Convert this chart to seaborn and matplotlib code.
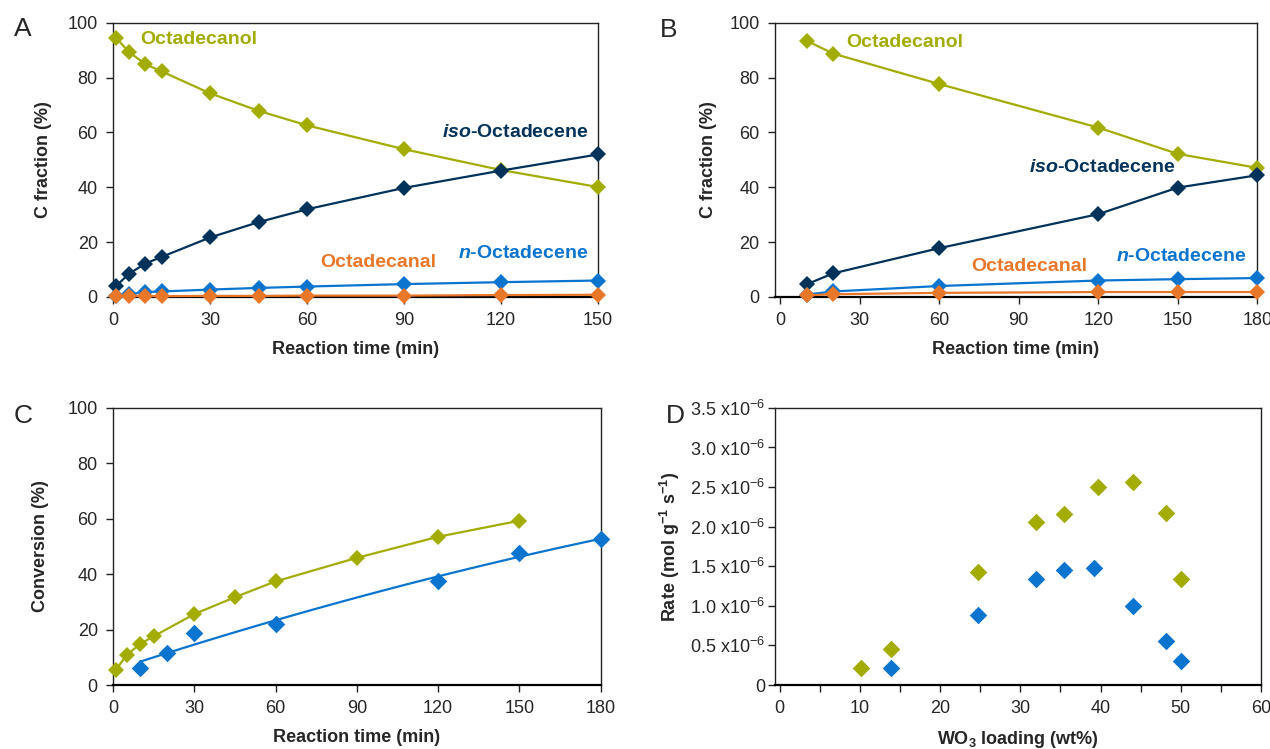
import numpy as np
import pandas as pd
import seaborn as sns
import matplotlib.pyplot as plt

# panel A: C fraction vs reaction time
time_a = [1, 5, 10, 15, 30, 45, 60, 90, 120, 150]
octadecanol_a = [94.4, 89.3, 84.9, 82.3, 74.3, 67.9, 62.6, 53.9, 46.3, 40.1]
iso_a = [4.1, 8.5, 12.2, 14.6, 21.7, 27.3, 32.0, 39.8, 46.1, 52.0]
n_a = [0.5, 1.0, 1.8, 2.0, 2.7, 3.3, 3.8, 4.7, 5.4, 6.0]
octadecanal_a = [0.2, 0.3, 0.4, 0.3, 0.4, 0.4, 0.5, 0.5, 0.7, 0.8]

# panel B
time_b = [10, 20, 60, 120, 150, 180]
octadecanol_b = [93.5, 88.8, 77.7, 61.8, 52.2, 47.1]
iso_b = [4.6, 8.6, 17.8, 30.2, 39.9, 44.4]
n_b = [0.9, 2.0, 4.0, 6.0, 6.5, 6.9]
octadecanal_b = [0.6, 1.0, 1.5, 1.8, 1.8, 1.8]

# panel C: conversion
time_c1 = [1, 5, 10, 15, 30, 45, 60, 90, 120, 150]
conv_c1 = [5.4, 10.8, 14.8, 17.6, 25.6, 31.7, 37.4, 45.9, 53.5, 59.3]
time_c2 = [10, 20, 30, 60, 120, 150, 180]
conv_c2 = [6.0, 11.4, 18.9, 22.1, 37.6, 47.6, 52.6]

# panel D: rate (x1e-6 mol/g/s) vs WO3 loading
loading_1 = [10.1, 13.9, 24.7, 32.0, 35.4, 39.7, 44.0, 48.2, 50.0]
rate_1 = [0.21, 0.46, 1.43, 2.06, 2.16, 2.50, 2.56, 2.17, 1.34]
loading_2 = [13.9, 24.7, 32.0, 35.4, 39.2, 44.0, 48.2, 50.0]
rate_2 = [0.22, 0.89, 1.34, 1.45, 1.48, 1.00, 0.56, 0.30]

rate_ticks = [0, 0.5, 1.0, 1.5, 2.0, 2.5, 3.0, 3.5]
rate_labels = ['0'] + [r'%.1f x10$^{\mathrm{-6}}$' % v for v in rate_ticks[1:]]

OLIVE = '#A3AC00'
NAVY = '#00325A'
BLUE = '#0A74CF'
ORANGE = '#E8772A'

sns.set_theme(style='ticks')
plt.rcParams['font.family'] = ['Liberation Sans', 'DejaVu Sans']
plt.rcParams['mathtext.fontset'] = 'custom'
plt.rcParams['mathtext.rm'] = 'Liberation Sans'
plt.rcParams['mathtext.it'] = 'Liberation Sans:italic'
plt.rcParams['mathtext.bf'] = 'Liberation Sans:bold'
plt.rcParams['mathtext.bfit'] = 'Liberation Sans:italic:bold'

fig = plt.figure(figsize=(12.7, 7.49), dpi=100)
ax_a = fig.add_axes([0.089, 0.6035, 0.382, 0.366])
ax_b = fig.add_axes([0.610, 0.6035, 0.380, 0.366])
ax_c = fig.add_axes([0.089, 0.0854, 0.384, 0.370])
ax_d = fig.add_axes([0.610, 0.0854, 0.383, 0.370])

TICK_FS = 13
LABEL_FS = 13
NOTE_FS = 14


def style_axes(ax):
    for side in ['top', 'right', 'left', 'bottom']:
        ax.spines[side].set_visible(True)
        ax.spines[side].set_color('#222222')
        ax.spines[side].set_linewidth(1.0)
    ax.spines['bottom'].set_linewidth(1.6)
    ax.spines['bottom'].set_color('black')
    ax.tick_params(axis='both', direction='out', length=5, width=1,
                   labelsize=TICK_FS, pad=6, color='#222222')


def line_series(ax, x, y, color):
    sns.lineplot(x=x, y=y, ax=ax, color=color, linewidth=1.6, marker='D',
                 markersize=8, markeredgewidth=0, markeredgecolor=color,
                 clip_on=False, zorder=3)


# A
line_series(ax_a, time_a, octadecanol_a, OLIVE)
line_series(ax_a, time_a, iso_a, NAVY)
line_series(ax_a, time_a, n_a, BLUE)
line_series(ax_a, time_a, octadecanal_a, ORANGE)
ax_a.set_xlim(0, 150)
ax_a.set_ylim(0, 100)
ax_a.set_xticks([0, 30, 60, 90, 120, 150])
ax_a.set_yticks([0, 20, 40, 60, 80, 100])
ax_a.text(8.4, 93.8, 'Octadecanol', color=OLIVE, fontsize=NOTE_FS, fontweight='bold', va='center')
ax_a.text(147, 60, r'$\mathbfit{iso}$-Octadecene', color=NAVY, fontsize=NOTE_FS, fontweight='bold', ha='right', va='center')
ax_a.text(147, 15.7, r'$\mathbfit{n}$-Octadecene', color=BLUE, fontsize=NOTE_FS, fontweight='bold', ha='right', va='center')
ax_a.text(82, 12.4, 'Octadecanal', color=ORANGE, fontsize=NOTE_FS, fontweight='bold', ha='center', va='center')
ax_a.set_xlabel('Reaction time (min)', fontsize=LABEL_FS, fontweight='bold')
ax_a.set_ylabel('C fraction (%)', fontsize=LABEL_FS, fontweight='bold')

# B
line_series(ax_b, time_b, octadecanol_b, OLIVE)
line_series(ax_b, time_b, iso_b, NAVY)
line_series(ax_b, time_b, n_b, BLUE)
line_series(ax_b, time_b, octadecanal_b, ORANGE)
ax_b.set_xlim(-2, 180)
ax_b.set_ylim(0, 100)
ax_b.set_xticks([0, 30, 60, 90, 120, 150, 180])
ax_b.set_yticks([0, 20, 40, 60, 80, 100])
ax_b.text(25, 93, 'Octadecanol', color=OLIVE, fontsize=NOTE_FS, fontweight='bold', va='center')
ax_b.text(149, 47.4, r'$\mathbfit{iso}$-Octadecene', color=NAVY, fontsize=NOTE_FS, fontweight='bold', ha='right', va='center')
ax_b.text(176, 14.6, r'$\mathbfit{n}$-Octadecene', color=BLUE, fontsize=NOTE_FS, fontweight='bold', ha='right', va='center')
ax_b.text(94, 11, 'Octadecanal', color=ORANGE, fontsize=NOTE_FS, fontweight='bold', ha='center', va='center')
ax_b.set_xlabel('Reaction time (min)', fontsize=LABEL_FS, fontweight='bold')
ax_b.set_ylabel('C fraction (%)', fontsize=LABEL_FS, fontweight='bold')

# C
line_series(ax_c, time_c1, conv_c1, OLIVE)
sns.regplot(x=time_c2, y=conv_c2, ax=ax_c, order=2, ci=None, scatter=False,
            line_kws=dict(color=BLUE, linewidth=1.6))
sns.scatterplot(x=time_c2, y=conv_c2, ax=ax_c, color=BLUE, marker='D', s=80,
                linewidth=0, zorder=3, clip_on=False)
ax_c.set_xlim(0, 180)
ax_c.set_ylim(0, 100)
ax_c.set_xticks([0, 30, 60, 90, 120, 150, 180])
ax_c.set_yticks([0, 20, 40, 60, 80, 100])
ax_c.set_xlabel('Reaction time (min)', fontsize=LABEL_FS, fontweight='bold')
ax_c.set_ylabel('Conversion (%)', fontsize=LABEL_FS, fontweight='bold')

# D
sns.scatterplot(x=loading_1, y=rate_1, ax=ax_d, color=OLIVE, marker='D', s=80, linewidth=0)
sns.scatterplot(x=loading_2, y=rate_2, ax=ax_d, color=BLUE, marker='D', s=80, linewidth=0)
ax_d.set_xlim(-0.6, 60)
ax_d.set_ylim(0, 3.5)
ax_d.set_xticks([0, 10, 20, 30, 40, 50, 60])
ax_d.set_xticks(np.arange(5, 60, 10), minor=True)
ax_d.set_yticks(rate_ticks)
ax_d.set_yticklabels(rate_labels)
ax_d.set_xlabel(r'WO$_{\mathbf{3}}$ loading (wt%)', fontsize=LABEL_FS, fontweight='bold')
ax_d.set_ylabel(r'Rate (mol g$^{\mathbf{-1}}$ s$^{\mathbf{-1}}$)', fontsize=LABEL_FS, fontweight='bold')

for ax in [ax_a, ax_b, ax_c, ax_d]:
    style_axes(ax)
ax_d.tick_params(axis='y', pad=2)
ax_d.tick_params(axis='x', which='minor', direction='out', length=5, width=1, color='#222222')

ax_a.yaxis.set_label_coords(-0.126, 0.5)
ax_b.yaxis.set_label_coords(-0.12, 0.5)
ax_c.yaxis.set_label_coords(-0.131, 0.5)
ax_d.yaxis.set_label_coords(-0.19, 0.5)
for ax in [ax_a, ax_b, ax_c, ax_d]:
    ax.xaxis.set_label_coords(0.5, -0.16)

fig.text(14 / 1270, 1 - 36 / 749, 'A', fontsize=19)
fig.text(660 / 1270, 1 - 37 / 749, 'B', fontsize=19)
fig.text(14 / 1270, 1 - 423 / 749, 'C', fontsize=19)
fig.text(666 / 1270, 1 - 423 / 749, 'D', fontsize=19)

fig.savefig('out.png', dpi=100)
